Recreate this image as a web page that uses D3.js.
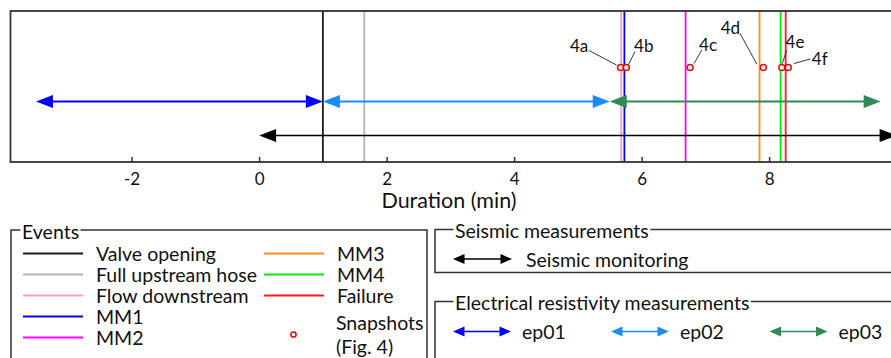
<!DOCTYPE html>
<html>
<head>
<meta charset="utf-8">
<script src="https://cdn.jsdelivr.net/npm/d3@7/dist/d3.min.js"></script>
<style>
  html, body { margin: 0; padding: 0; background: #fff; }
  svg { display: block; font-family: Lato, "Noto Sans", sans-serif; }
</style>
</head>
<body>
<svg id="chart" width="891" height="358"></svg>
<script>
// ---- data ----
const eventNames = ["Valve opening", "Full upstream hose", "Flow downstream", "MM1", "MM2", "MM3", "MM4", "Failure"];
const eventTimes = [1.0, 1.65, 5.68, 5.73, 6.69, 7.85, 8.18, 8.26];

const snapshotLabels = ["4a", "4b", "4c", "4d", "4e", "4f"];
const snapshotTimes = [5.67, 5.76, 6.76, 7.91, 8.20, 8.30];
const snapshotLegend = ["Snapshots", "(Fig. 4)"];

const ertNames = ["ep01", "ep02", "ep03"];
const ertStart = [-3.5, 1.0, 5.5];
const ertEnd = [1.0, 5.5, 9.75];

const seismicNames = ["Seismic monitoring"];
const seismicStart = [0];
const seismicEnd = [10.0];

const tickValues = [-2, 0, 2, 4, 6, 8];
const xLabel = "Duration (min)";

// ---- styles ----
const eventColors = ["#1a1a1a", "#b3b3b3", "#ff99cc", "#0000ff", "#ff00ff", "#ff8c1a", "#00ee00", "#ff1a1a"];
const ertColors = ["#0000ff", "#1a8cff", "#2e8b57"];
const seismicColor = "#000000";
const snapColor = "#ff0000";
const frameColor = "#333333";
const legendFont = 19.5;

// snapshot label placement (offset of label centre and leader line ends from the marker)
const snapLayout = [
  { lx: -41.5, ly: -22.5, x1: -31.5, y1: -17, x2: -4, y2: -2.5 },
  { lx: 17.5, ly: -22.5, x1: 8.7, y1: -16, x2: 2, y2: -2.5 },
  { lx: 18, ly: -23, x1: 11.7, y1: -17.5, x2: 4, y2: -4 },
  { lx: -33, ly: -40.5, x1: -23.3, y1: -34, x2: -6.6, y2: -3.5 },
  { lx: 13.2, ly: -26, x1: 4.9, y1: -17.5, x2: 0.5, y2: -4 },
  { lx: 31.5, ly: -9, x1: 22, y1: -8.5, x2: 5.8, y2: -4 }
];

const svg = d3.select("#chart");

// ---- scales ----
const plotTop = 11, plotBottom = 162;
const x = d3.scaleLinear().domain([-3.9, 10]).range([10.5, 896.6]);
const row = d3.scalePoint().domain(["snap", "ert", "seis"]).range([67.5, 135.5]);

// ---- helpers ----
function arrowHead(g, tipX, y, dir, len, half, color) {
  // dir = +1 points right, -1 points left
  const baseX = tipX - dir * len;
  g.append("path")
    .attr("d", `M${tipX},${y}L${baseX},${y - half}L${baseX},${y + half}Z`)
    .attr("fill", color);
}
function doubleArrow(g, x0, x1, y, color, len, half, width) {
  g.append("line")
    .attr("x1", x0 + len * 0.8).attr("x2", x1 - len * 0.8)
    .attr("y1", y).attr("y2", y)
    .attr("stroke", color).attr("stroke-width", width);
  arrowHead(g, x0, y, -1, len, half, color);
  arrowHead(g, x1, y, 1, len, half, color);
}

// ---- plot ----
const plot = svg.append("g");

// event lines
plot.selectAll("line.event")
  .data(eventTimes)
  .join("line")
  .attr("class", "event")
  .attr("x1", d => x(d)).attr("x2", d => x(d))
  .attr("y1", plotTop).attr("y2", plotBottom)
  .attr("stroke", (d, i) => eventColors[i])
  .attr("stroke-width", 1.8);

// electrical resistivity periods
ertNames.forEach((n, i) => {
  doubleArrow(plot, x(ertStart[i]), x(ertEnd[i]), row("ert"), ertColors[i], 17, 6.5, 2);
});
// seismic monitoring period
seismicNames.forEach((n, i) => {
  doubleArrow(plot, x(seismicStart[i]), x(seismicEnd[i]), row("seis"), seismicColor, 17, 6.5, 1.6);
});

// snapshot leaders, labels and markers
const snaps = plot.selectAll("g.snap")
  .data(snapshotTimes)
  .join("g")
  .attr("class", "snap")
  .attr("transform", d => `translate(${x(d)},${row("snap")})`);
snaps.append("line")
  .attr("x1", (d, i) => snapLayout[i].x1).attr("y1", (d, i) => snapLayout[i].y1)
  .attr("x2", (d, i) => snapLayout[i].x2).attr("y2", (d, i) => snapLayout[i].y2)
  .attr("stroke", "#222").attr("stroke-width", 0.9);
snaps.append("text")
  .attr("x", (d, i) => snapLayout[i].lx).attr("y", (d, i) => snapLayout[i].ly)
  .attr("text-anchor", "middle").attr("dominant-baseline", "central")
  .attr("font-size", 17).attr("fill", "#111")
  .text((d, i) => snapshotLabels[i]);
snaps.append("circle")
  .attr("r", 3).attr("fill", "#fff")
  .attr("stroke", snapColor).attr("stroke-width", 1.5);

// axis with inward ticks
const axis = d3.axisBottom(x).tickValues(tickValues).tickSize(-5).tickPadding(11)
  .tickFormat(d => d < 0 ? "-" + Math.abs(d) : String(d));
const ax = svg.append("g").attr("transform", `translate(0,${plotBottom})`).call(axis);
ax.select(".domain").remove();
ax.selectAll(".tick line").attr("stroke", frameColor).attr("stroke-width", 1.5);
ax.selectAll(".tick text").attr("font-size", 17).attr("fill", "#111").attr("font-family", "Lato, sans-serif");

// frame
svg.append("rect")
  .attr("x", x.range()[0]).attr("y", plotTop)
  .attr("width", x.range()[1] - x.range()[0]).attr("height", plotBottom - plotTop)
  .attr("fill", "none").attr("stroke", frameColor).attr("stroke-width", 1.8);

svg.append("text")
  .attr("x", 449).attr("y", 200)
  .attr("text-anchor", "middle").attr("dominant-baseline", "central")
  .attr("font-size", 21.5).attr("fill", "#111")
  .text(xLabel);

// ---- legends ----
function legendBox(x0, y0, x1, y1, title, titleOffset) {
  const g = svg.append("g");
  g.append("rect").attr("x", x0).attr("y", y0).attr("width", x1 - x0).attr("height", y1 - y0)
    .attr("fill", "#fff").attr("stroke", frameColor).attr("stroke-width", 1.5);
  const t = g.append("text").attr("x", x0 + titleOffset).attr("y", y0 + 1)
    .attr("dominant-baseline", "central").attr("font-size", legendFont).attr("fill", "#111")
    .text(title);
  const bb = t.node().getBBox();
  g.insert("rect", "text").attr("x", bb.x - 1.5).attr("y", y0 - 3).attr("width", bb.width + 3).attr("height", 6)
    .attr("fill", "#fff");
  return g;
}

// Events legend
const ev = legendBox(11, 230, 427, 372, "Events", 11);
const evRows = [0, 1, 2, 3, 4, 0, 1, 2];
const evCols = [0, 0, 0, 0, 0, 1, 1, 1];
const rowY = r => 253.5 + r * 21;
const colX = [23, 264];
eventNames.forEach((n, i) => {
  const cx = colX[evCols[i]], cy = rowY(evRows[i]);
  ev.append("line").attr("x1", cx).attr("x2", cx + 60).attr("y1", cy).attr("y2", cy)
    .attr("stroke", eventColors[i]).attr("stroke-width", 1.8);
  ev.append("text").attr("x", cx + 73).attr("y", cy)
    .attr("dominant-baseline", "central").attr("font-size", legendFont).attr("fill", "#111")
    .text(n);
});
ev.append("circle").attr("cx", 293.5).attr("cy", 334.5).attr("r", 2.6)
  .attr("fill", "#fff").attr("stroke", snapColor).attr("stroke-width", 1.5);
// two-line snapshot entry
ev.selectAll("text.snapleg")
  .data(snapshotLegend)
  .join("text")
  .attr("class", "snapleg")
  .attr("x", 336)
  .attr("y", (d, i) => 322.5 + i * 23.5)
  .attr("dominant-baseline", "central").attr("font-size", legendFont).attr("fill", "#111")
  .text(d => d);

// Seismic legend
const se = legendBox(435, 229.5, 905, 272.5, "Seismic measurements", 20);
seismicNames.forEach((n, i) => {
  doubleArrow(se, 453, 512, 259, seismicColor, 11.5, 5, 1.5);
  se.append("text").attr("x", 526).attr("y", 259)
    .attr("dominant-baseline", "central").attr("font-size", legendFont).attr("fill", "#111").text(n);
});

// Electrical resistivity legend
const el = legendBox(435, 301.5, 905, 372, "Electrical resistivity measurements", 20);
const elX = [453, 611, 769.5];
ertNames.forEach((n, i) => {
  doubleArrow(el, elX[i], elX[i] + 58, 331.5, ertColors[i], 11.5, 5, 1.5);
  el.append("text").attr("x", elX[i] + 69).attr("y", 331.5)
    .attr("dominant-baseline", "central").attr("font-size", legendFont).attr("fill", "#111").text(n);
});
</script>
</body>
</html>
